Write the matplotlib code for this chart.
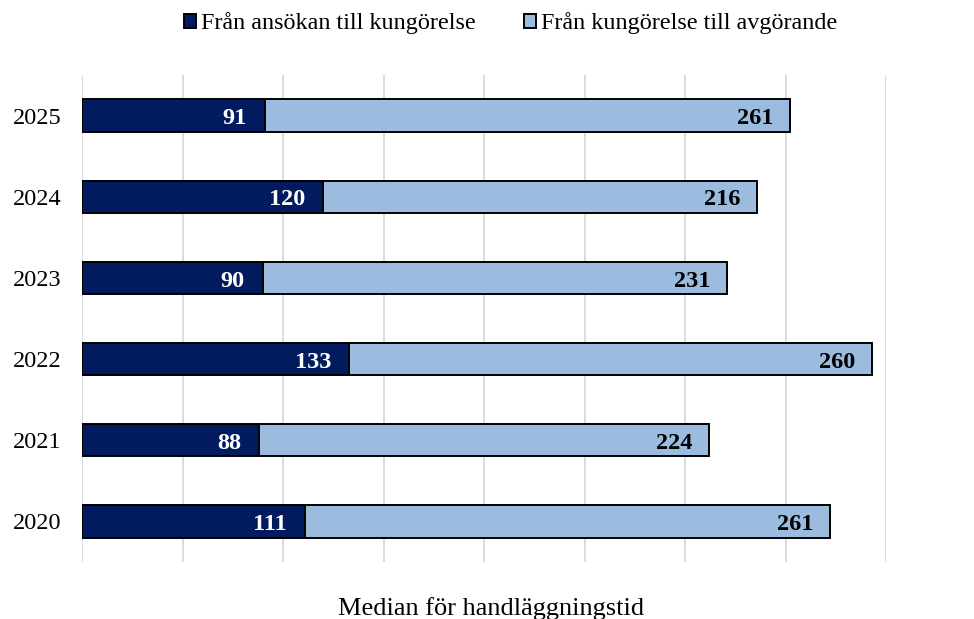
import matplotlib
matplotlib.use("Agg")
import matplotlib.pyplot as plt
import numpy as np

years = ["2020", "2021", "2022", "2023", "2024", "2025"]
series1_name = "Från ansökan till kungörelse"
series2_name = "Från kungörelse till avgörande"
series1 = [111, 88, 133, 90, 120, 91]
series2 = [261, 224, 260, 231, 216, 261]
xlabel = "Median för handläggningstid"

plt.rcParams['font.family'] = ['Liberation Serif', 'DejaVu Serif']

dark = "#021B5E"
light = "#9BBBDF"

fig = plt.figure(figsize=(9.74, 6.19), dpi=100)
ax = fig.add_axes([0.0842, 0.0921, 0.8255, 0.7867])

y = np.arange(len(years))
h = 0.4
b1 = ax.barh(y, series1, height=h, color=dark, edgecolor="black", linewidth=1.4, label=series1_name, zorder=3)
b2 = ax.barh(y, series2, left=series1, height=h, color=light, edgecolor="black", linewidth=1.4, label=series2_name, zorder=3)

for i in range(len(years)):
    ax.annotate(str(series1[i]), xy=(series1[i], y[i]), xytext=(-13, -0.5), textcoords="offset points",
                ha="right", va="center_baseline", color="white", fontweight="bold", fontsize=17.5, zorder=4)
    ax.annotate(str(series2[i]), xy=(series1[i] + series2[i], y[i]), xytext=(-12, -0.5), textcoords="offset points",
                ha="right", va="center_baseline", color="black", fontweight="bold", fontsize=17.5, zorder=4)

ax.set_xlim(0, 400)
ax.set_ylim(-0.5, 5.5)
ax.set_xticks(np.arange(0, 401, 50))
ax.set_xticklabels([])
ax.tick_params(axis="x", length=0)
ax.tick_params(axis="y", length=0, labelsize=17.5, pad=15)
ax.set_yticks(y)
ax.set_yticklabels(years, va="center_baseline")
ax.grid(axis="x", color="#d9d9d9", linewidth=1.3, zorder=0)
for s in ax.spines.values():
    s.set_visible(False)

fig.text(0.504, 0.0065, xlabel, ha="center", va="baseline", fontsize=19)

fig.legend(handles=[b1, b2], labels=[series1_name, series2_name], loc="center",
           bbox_to_anchor=(0.524, 0.962), ncol=2, frameon=False, fontsize=17.4,
           handlelength=0.5, handleheight=0.5, handletextpad=0.2, columnspacing=2.0)

fig.savefig("out.png", dpi=100)
